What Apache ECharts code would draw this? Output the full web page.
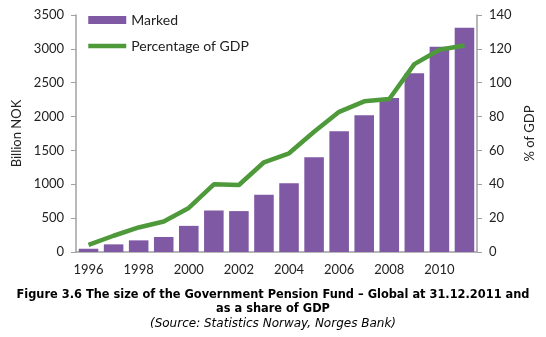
<!DOCTYPE html>
<html><head><meta charset="utf-8">
<script src="https://cdn.jsdelivr.net/npm/echarts@6/dist/echarts.min.js"></script>
<style>html,body{margin:0;padding:0;background:#fff}#c{width:546px;height:337px}</style>
</head><body><div id="c"></div>
<script>
var years = ['1996','1997','1998','1999','2000','2001','2002','2003','2004','2005','2006','2007','2008','2009','2010','2011'];
var marked = [48, 113, 172, 222, 386, 613, 604, 845, 1016, 1399, 1784, 2019, 2275, 2640, 3030, 3312];
var pctGDP = [4.2, 9.6, 14.5, 18, 26, 40, 39.6, 53, 58.3, 71, 82.8, 89, 90.4, 111, 119.5, 122];
var chart = echarts.init(document.getElementById('c'));
var font = 'Lato, "Open Sans", sans-serif';
var capFont = '"DejaVu Sans", Verdana, sans-serif';
chart.setOption({
  animation: false,
  grid: {left: 76, right: 69, top: 15, bottom: 85},
  legend: {
    orient: 'vertical', left: 81, top: 8, itemWidth: 38, itemHeight: 8, itemGap: 12,
    textStyle: {fontFamily: font, fontSize: 14, color: '#222'},
    data: [{name: 'Marked', icon: 'rect'}, {name: 'Percentage of GDP', itemStyle: {opacity: 0}, lineStyle: {width: 4.5, color: '#4e9a3a'}}]
  },
  xAxis: {
    type: 'category', data: years,
    axisLine: {lineStyle: {color: '#a0a0a0', width: 1.5}},
    axisTick: {show: false},
    axisLabel: {interval: 1, fontFamily: font, fontSize: 13, color: '#222', margin: 11}
  },
  yAxis: [{
    type: 'value', min: 0, max: 3500, interval: 500,
    name: 'Billion NOK', nameLocation: 'middle', nameGap: 48, nameRotate: 90,
    nameTextStyle: {fontFamily: font, fontSize: 13, color: '#222'},
    axisLine: {show: true, lineStyle: {color: '#a0a0a0', width: 1.5}},
    axisTick: {show: true, length: 5, lineStyle: {color: '#a0a0a0'}},
    splitLine: {show: false},
    axisLabel: {fontFamily: font, fontSize: 13, color: '#222', margin: 12, formatter: function (v) { return String(v); }}
  }, {
    type: 'value', min: 0, max: 140, interval: 20, position: 'right',
    name: '% of GDP', nameLocation: 'middle', nameGap: 46, nameRotate: 90,
    nameTextStyle: {fontFamily: font, fontSize: 13, color: '#222'},
    axisLine: {show: true, lineStyle: {color: '#a0a0a0', width: 1.5}},
    axisTick: {show: true, length: 5, lineStyle: {color: '#a0a0a0'}},
    splitLine: {show: false},
    axisLabel: {fontFamily: font, fontSize: 13, color: '#222', margin: 12}
  }],
  series: [{
    name: 'Marked', type: 'bar', data: marked, barCategoryGap: '22%',
    itemStyle: {color: '#7f59a3'}
  }, {
    name: 'Percentage of GDP', type: 'line', yAxisIndex: 1, data: pctGDP,
    symbol: 'none', lineStyle: {color: '#4e9a3a', width: 4.5}, itemStyle: {color: '#4e9a3a'}
  }],
  graphic: [
    {type: 'text', left: 'center', top: 290, style: {text: 'Figure 3.6 The size of the Government Pension Fund \u2013 Global at 31.12.2011 and', font: 'bold 11.4px ' + capFont, fill: '#000'}},
    {type: 'text', left: 'center', top: 304, style: {text: 'as a share of GDP', font: 'bold 11.4px ' + capFont, fill: '#000'}},
    {type: 'text', left: 'center', top: 318, style: {text: '(Source: Statistics Norway, Norges Bank)', font: 'italic 12px ' + capFont, fill: '#000'}}
  ]
});
</script></body></html>
